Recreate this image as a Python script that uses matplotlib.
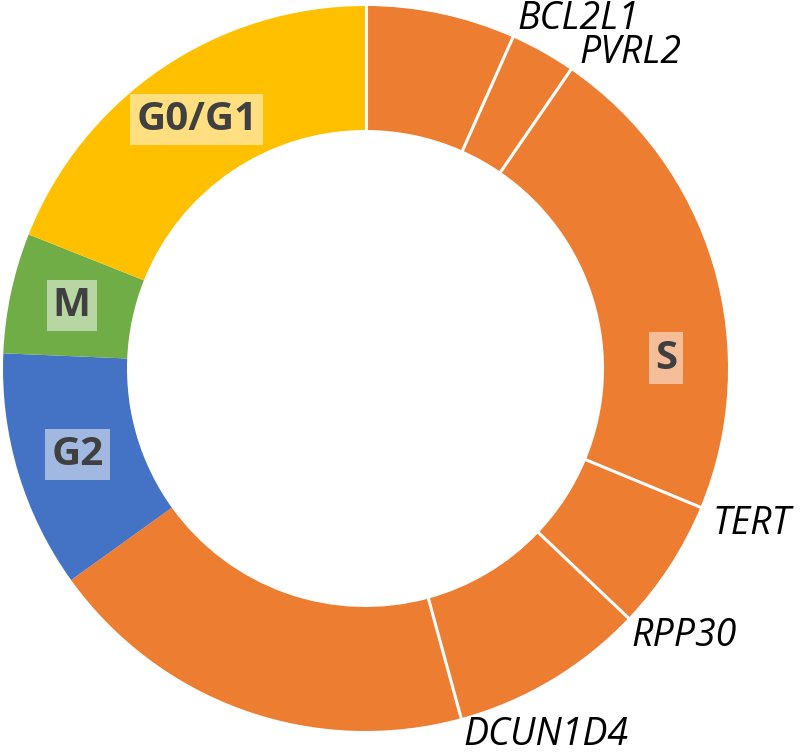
import numpy as np
import matplotlib.pyplot as plt

# segment sizes in degrees, clockwise from 12 o'clock
segments = [24, 10.5, 78, 21, 31.2, 69.6, 38.1, 19.3, 68.3]
seg_phase = ['S', 'S', 'S', 'S', 'S', 'S', 'G2', 'M', 'G0/G1']
phase_colors = {'S': '#ED7D31', 'G2': '#4472C4', 'M': '#70AD47', 'G0/G1': '#FFC000'}
phase_labels = ['G0/G1', 'M', 'G2', 'S']
# gene names sit at the separators inside the S phase (after segment i)
genes = ['BCL2L1', 'PVRL2', 'TERT', 'RPP30', 'DCUN1D4']
gene_after = [0, 1, 2, 3, 4]

R_IN = 238.5 / 362.5
W = 1 - R_IN

fig = plt.figure(figsize=(8, 7.54), dpi=100)
ax = fig.add_axes([0, 0, 1, 1])
colors = [phase_colors[p] for p in seg_phase]
ax.pie(segments, colors=colors, startangle=90, counterclock=False, radius=1,
       wedgeprops=dict(width=W, linewidth=0))

bounds = np.concatenate([[0], np.cumsum(segments)])  # degrees clockwise from top


def pos(ang, r):
    a = np.deg2rad(90 - ang)
    return r * np.cos(a), r * np.sin(a)


# white separators between the orange sub-segments (and at the top)
for i in range(6):
    x0, y0 = pos(bounds[i], R_IN - 0.01)
    x1, y1 = pos(bounds[i], 1.01)
    ax.plot([x0, x1], [y0, y1], color='white', lw=2.2, solid_capstyle='butt')

# gene labels next to the outer end of the separators (offsets in points)
offsets = {'BCL2L1': (3, 6), 'PVRL2': (6.5, 5),
           'TERT': (9, -19.5), 'RPP30': (2.5, -20), 'DCUN1D4': (1.5, -19)}
for g, i in zip(genes, gene_after):
    x, y = pos(bounds[i + 1], 1.0)
    dx, dy = offsets[g]
    ax.annotate(g, (x, y), xytext=(dx, dy), textcoords='offset points',
                ha='left', va='baseline', fontsize=27, style='italic',
                family='Open Sans', color='black')

# phase labels in the middle of the ring
r_mid = (1 + R_IN) / 2
phase_angle = {}
for p in ['G2', 'M', 'G0/G1']:
    idx = [i for i, s in enumerate(seg_phase) if s == p]
    phase_angle[p] = (bounds[idx[0]] + bounds[idx[-1] + 1]) / 2
phase_angle['S'] = 88
for p in phase_labels:
    x, y = pos(phase_angle[p], r_mid)
    ax.text(x, y, p, ha='center', va='center', fontsize=29, fontweight='bold',
            family='Open Sans', color='#404040',
            bbox=dict(boxstyle='square,pad=0.15', fc='white', ec='none', alpha=0.5))

ax.set_aspect('auto')
ax.set_xlim(-365.5 / 362.5, (800 - 365.5) / 362.5)
ax.set_ylim((368.5 - 754) / 362.5, 368.5 / 362.5)
ax.axis('off')

plt.savefig('out.png', dpi=100)
